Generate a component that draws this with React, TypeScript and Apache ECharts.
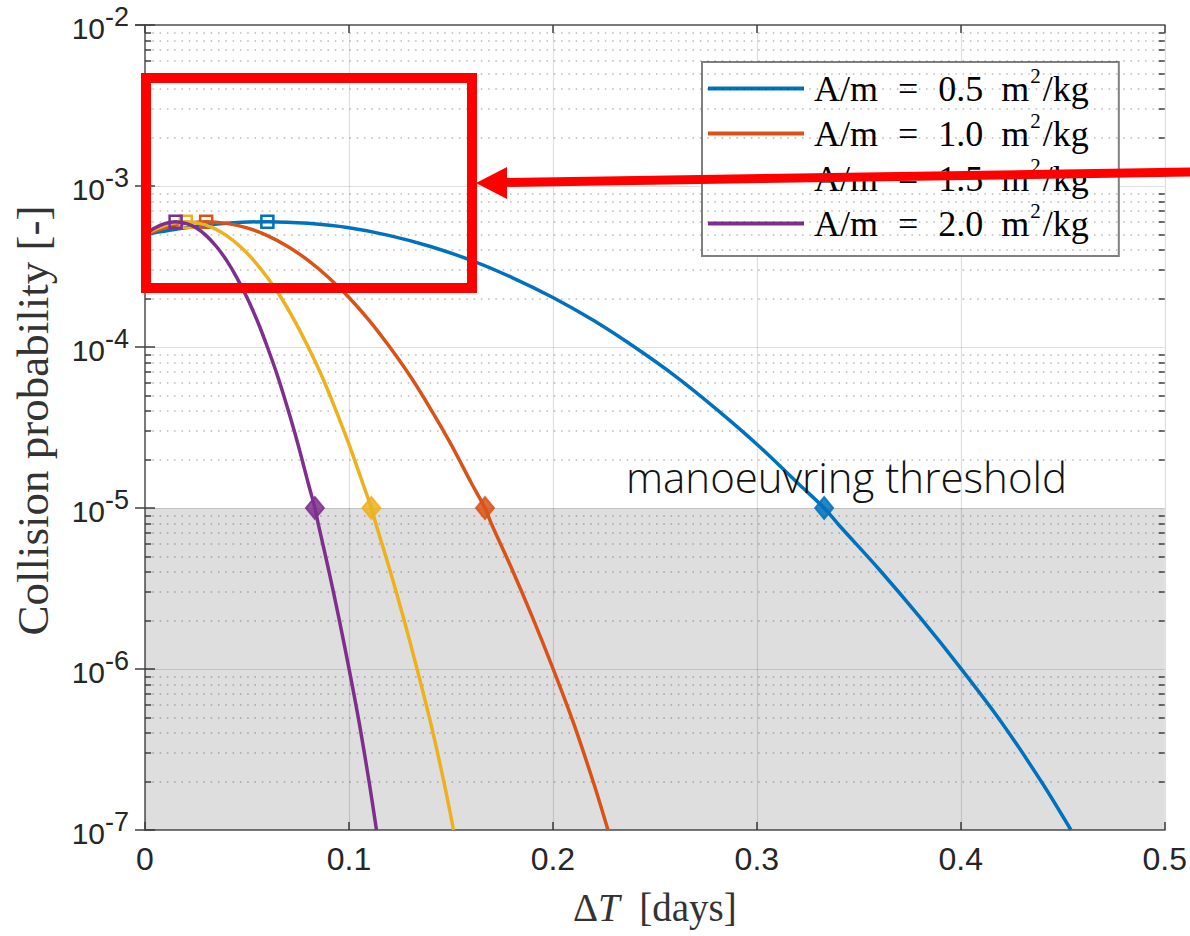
import React, { useEffect, useRef } from 'react';
import * as echarts from 'echarts';

// ---- data ----
const massRatios = ['0.5', '1.0', '1.5', '2.0'];
const seriesColors = ['#0072BD', '#D95319', '#EDB120', '#7E2F8E'];

// Collision probability along each curve (same sampled levels for each curve)
const probability = [
  5.0e-4, 5.5e-4, 5.86e-4, 6.0e-4, 5.86e-4, 5.5e-4, 4.92e-4, 4.21e-4, 3.45e-4, 2.7e-4,
  2.03e-4, 1.46e-4, 1.0e-4, 6.6e-5, 4.13e-5, 2.49e-5, 1.43e-5, 1.0e-5, 7.9e-6, 4.15e-6,
  2.09e-6, 1.01e-6, 4.66e-7, 1.95e-7, 1.0e-7,
];
// Delta T [days] for each curve
const dtA05 = [
  0, 0.02, 0.04, 0.06, 0.08, 0.1, 0.12, 0.14, 0.16, 0.18,
  0.2, 0.22, 0.24, 0.26, 0.28, 0.3, 0.32, 0.333, 0.34, 0.36,
  0.38, 0.4, 0.42, 0.44, 0.454,
];
const dtA10 = [
  0, 0.01, 0.02, 0.03, 0.04, 0.05, 0.06, 0.07, 0.08, 0.09,
  0.1, 0.11, 0.12, 0.13, 0.14, 0.15, 0.16, 0.1667, 0.17, 0.18,
  0.19, 0.2, 0.21, 0.22, 0.227,
];
const dtA15 = [
  0, 0.0067, 0.0133, 0.02, 0.0267, 0.0333, 0.04, 0.0467, 0.0533, 0.06,
  0.0667, 0.0733, 0.08, 0.0867, 0.0933, 0.1, 0.1067, 0.111, 0.1133, 0.12,
  0.1267, 0.1333, 0.14, 0.1467, 0.1513,
];
const dtA20 = [
  0, 0.005, 0.01, 0.015, 0.02, 0.025, 0.03, 0.035, 0.04, 0.045,
  0.05, 0.055, 0.06, 0.065, 0.07, 0.075, 0.08, 0.0833, 0.085, 0.09,
  0.095, 0.1, 0.105, 0.11, 0.1135,
];
const dtSeries = [dtA05, dtA10, dtA15, dtA20];
const peakIndex = 3;       // square marker
const thresholdIndex = 17; // diamond marker
const thresholdValue = 1e-5;
const yMin = 1e-7;
const yMax = 1e-2;
const xMin = 0;
const xMax = 0.5;
const xInterval = 0.1;
const decadeExponents = [-7, -6, -5, -4, -3];
const minorMultipliers = [2, 3, 4, 5, 6, 7, 8, 9];

const SERIF = '"Liberation Serif", "Times New Roman", serif';
const SANS = '"Liberation Sans", Arial, sans-serif';

export default function App() {
  const ref = useRef<HTMLDivElement>(null);

  useEffect(() => {
    if (!ref.current) return;
    const chart = echarts.init(ref.current, null, { renderer: 'svg' });

    const minorValues: number[] = [];
    decadeExponents.forEach((e) => minorMultipliers.forEach((m) => minorValues.push(m * Math.pow(10, e))));

    const lineSeries = dtSeries.map((dts, s) => {
      const color = seriesColors[s];
      const data = dts.map((t, i) => {
        const v = [t, probability[i]];
        if (i === peakIndex) {
          return {
            value: v,
            symbol: 'rect',
            symbolSize: 12,
            itemStyle: { color: 'rgba(255,255,255,0)', borderColor: color, borderWidth: 2.5, opacity: 1 },
          };
        }
        if (i === thresholdIndex) {
          return {
            value: v,
            symbol: 'diamond',
            symbolSize: [18, 22],
            itemStyle: { color: color, opacity: 0.85, borderColor: color, borderWidth: 2 },
          };
        }
        return { value: v, symbol: 'none' };
      });
      return {
        type: 'line',
        name: massRatios[s],
        data,
        smooth: 0.3,
        showSymbol: true,
        symbol: 'none',
        color,
        lineStyle: { color, width: 3.5 },
        z: 5 + s,
        silent: true,
      };
    });

    const hiddenPoint = [[0.25, 1e-4]];

    const gridSeries = {
      type: 'line',
      name: '__grid',
      data: hiddenPoint,
      showSymbol: false,
      symbol: 'none',
      lineStyle: { opacity: 0, width: 0 },
      silent: true,
      z: 1,
      markArea: {
        silent: true,
        itemStyle: { color: 'rgba(0,0,0,0.13)' },
        data: [[{ yAxis: yMin }, { yAxis: thresholdValue }]],
      },
      markLine: {
        silent: true,
        symbol: ['none', 'none'],
        label: { show: false },
        emphasis: { disabled: true },
        lineStyle: { type: [1.5, 5.8], color: 'rgba(38,38,38,0.32)', width: 1.5 },
        data: minorValues.map((v) => [{ coord: [xMin, v] }, { coord: [xMax, v] }]),
      },
    };

    const minorTickSeries = {
      type: 'line',
      name: '__ticks',
      data: hiddenPoint,
      showSymbol: false,
      symbol: 'none',
      lineStyle: { opacity: 0, width: 0 },
      silent: true,
      z: 3,
      markLine: {
        silent: true,
        symbol: ['none', 'none'],
        label: { show: false },
        emphasis: { disabled: true },
        lineStyle: { type: 'solid', color: '#404040', width: 1.5 },
        data: [
          ...minorValues.map((v) => [{ coord: [xMin, v] }, { coord: [xMin + 0.003, v] }]),
          ...minorValues.map((v) => [{ coord: [xMax - 0.003, v] }, { coord: [xMax, v] }]),
        ],
      },
    };

    const tickColor = '#404040';
    const axisLineStyle = { color: '#7a7a7a', width: 2 };
    const gridLine = { color: 'rgba(38,38,38,0.15)', width: 1.2 };

    const legendTok = { fontFamily: SERIF, fontSize: 36, lineHeight: 32, color: '#000' };

    chart.setOption({
      animation: false,
      textStyle: { fontFamily: SANS },
      grid: { left: 145, right: 22, top: 25, bottom: 106 },
      legend: {
        data: massRatios,
        orient: 'vertical',
        left: 702,
        top: 62,
        padding: [3, 30, 9, 6],
        itemGap: -2,
        itemWidth: 96,
        itemHeight: 4,
        icon: 'rect',
        borderColor: '#7f7f7f',
        borderWidth: 2,
        backgroundColor: '#ffffff',
        selectedMode: false,
        formatter: (name: string) => `{a|A/m}{e|=}{n|${name}}{t|m}{s|2}{t|/kg}`,
        textStyle: {
          fontFamily: SERIF,
          fontSize: 36,
          color: '#000',
          rich: {
            a: { ...legendTok, padding: [0, 0, 0, 5] },
            e: { ...legendTok, padding: [0, 20, 0, 20] },
            n: { ...legendTok, padding: [0, 18, 0, 0] },
            t: { ...legendTok },
            s: { fontFamily: SERIF, fontSize: 21, lineHeight: 8, color: '#000', padding: [0, 2, 26, 1] },
          },
        },
      },
      xAxis: [
        {
          type: 'value',
          min: xMin,
          max: xMax,
          interval: xInterval,
          name: '{n|Δ}{i|T}{n|  [days]}',
          nameLocation: 'middle',
          nameGap: 58,
          nameTextStyle: {
            rich: {
              n: { fontFamily: SERIF, fontSize: 39, color: '#333' },
              i: { fontFamily: SERIF, fontStyle: 'italic', fontSize: 39, color: '#333' },
            },
          },
          axisLine: { show: true, lineStyle: axisLineStyle },
          axisTick: { show: true, inside: true, length: 8, lineStyle: { color: tickColor, width: 1.5 } },
          axisLabel: {
            fontFamily: SANS,
            fontSize: 32,
            color: '#262626',
            margin: 13,
            formatter: (v: number) => (v === 0 ? '0' : String(Number(v.toFixed(1)))),
          },
          splitLine: { show: true, lineStyle: gridLine },
        },
        {
          type: 'value',
          position: 'top',
          min: xMin,
          max: xMax,
          interval: xInterval,
          axisLine: { show: true, lineStyle: axisLineStyle },
          axisTick: { show: true, inside: true, length: 8, lineStyle: { color: tickColor, width: 1.5 } },
          axisLabel: { show: false },
          splitLine: { show: false },
        },
      ],
      yAxis: [
        {
          type: 'log',
          logBase: 10,
          min: yMin,
          max: yMax,
          splitNumber: 5,
          name: 'Collision probability [-]',
          nameLocation: 'middle',
          nameGap: 90,
          nameTextStyle: { fontFamily: SERIF, fontSize: 45, color: '#333', padding: [0, 0, 0, 14] },
          axisLine: { show: true, lineStyle: axisLineStyle },
          axisTick: { show: true, inside: true, length: 10, lineStyle: { color: tickColor, width: 1.5 } },
          axisLabel: {
            margin: 16,
            formatter: (v: number) => `{b|10}{s|${Math.round(Math.log10(v))}}`,
            rich: {
              b: { fontFamily: SANS, fontSize: 30, lineHeight: 30, color: '#262626', padding: [6, 0, 0, 0] },
              s: { fontFamily: SANS, fontSize: 27, lineHeight: 10, color: '#262626', padding: [0, 0, 16, 0] },
            },
          },
          splitLine: { show: true, lineStyle: gridLine },
        },
        {
          type: 'log',
          logBase: 10,
          position: 'right',
          min: yMin,
          max: yMax,
          splitNumber: 5,
          axisLine: { show: true, lineStyle: axisLineStyle },
          axisTick: { show: true, inside: true, length: 10, lineStyle: { color: tickColor, width: 1.5 } },
          axisLabel: { show: false },
          splitLine: { show: false },
        },
      ],
      graphic: [
        {
          type: 'text',
          z: 50,
          x: 626,
          y: 476,
          style: {
            text: 'manoeuvring threshold',
            fill: '#111',
            font: '300 42px "Open Sans"',
            textAlign: 'left',
            textVerticalAlign: 'middle',
          },
        },
        {
          type: 'rect',
          z: 60,
          shape: { x: 146, y: 78, width: 326, height: 210 },
          style: { fill: 'none', stroke: '#ff0000', lineWidth: 10 },
        },
        {
          type: 'line',
          z: 60,
          shape: { x1: 1195, y1: 172, x2: 500, y2: 182.5 },
          style: { stroke: '#ff0000', lineWidth: 9 },
        },
        {
          type: 'polygon',
          z: 60,
          shape: { points: [[476, 183], [507, 167], [507, 199]] },
          style: { fill: '#ff0000' },
        },
      ],
      series: [gridSeries, minorTickSeries, ...lineSeries],
    });

    return () => chart.dispose();
  }, []);

  return (
    <div
      ref={ref}
      style={{ position: 'absolute', left: 0, top: 0, width: 1190, height: 936, background: '#fff' }}
    />
  );
}
